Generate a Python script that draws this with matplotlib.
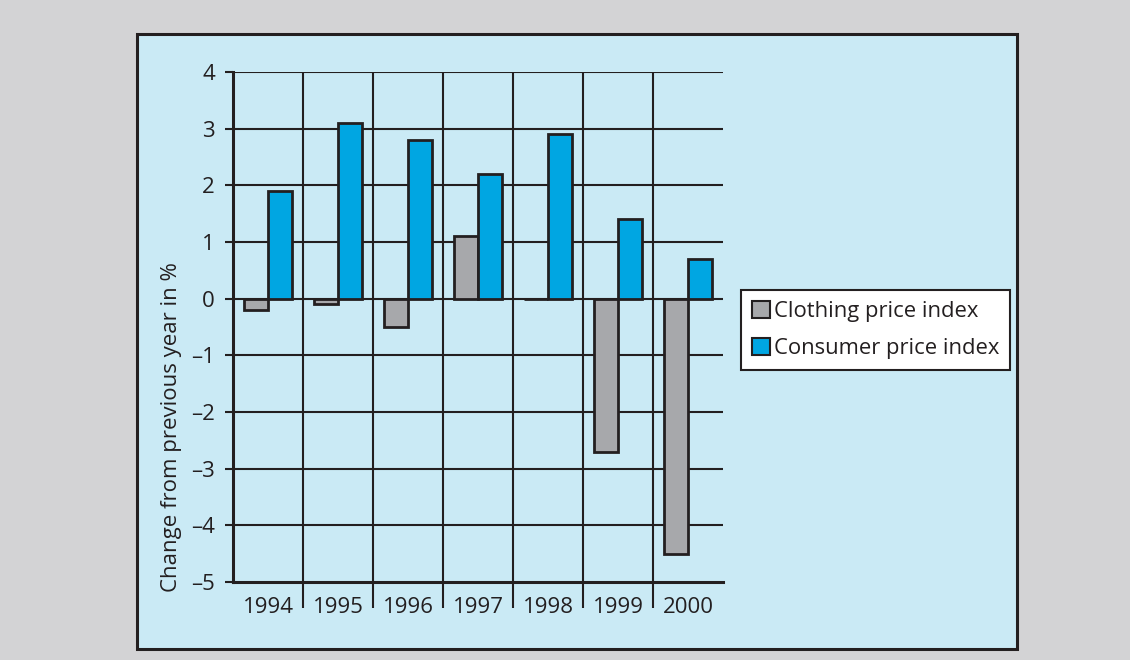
import matplotlib
matplotlib.use("Agg")
import matplotlib.pyplot as plt
from matplotlib.patches import Rectangle, Patch
from matplotlib.ticker import FixedLocator
import numpy as np

plt.rcParams['font.family'] = ['Open Sans', 'DejaVu Sans']

years = ["1994", "1995", "1996", "1997", "1998", "1999", "2000"]
clothing = [-0.2, -0.1, -0.5, 1.1, 0.0, -2.7, -4.5]
consumer = [1.9, 3.1, 2.8, 2.2, 2.9, 1.4, 0.7]
y_ticks = [-5, -4, -3, -2, -1, 0, 1, 2, 3, 4]
y_labels = [f"\u2013{abs(v)}" if v < 0 else str(v) for v in y_ticks]
series_names = ["Clothing price index", "Consumer price index"]

INK = "#231f20"
GREY_BAR = "#a7a8ab"
BLUE_BAR = "#00a6e2"
PANEL = "#caeaf5"
BG = "#d3d3d5"
FS = 16

W, H = 1130, 660
fig = plt.figure(figsize=(W / 100, H / 100), dpi=100, facecolor=BG)

# light blue panel with a dark frame, behind everything else
fig.patches.append(Rectangle((137 / W, 1 - 649 / H), (1017 - 137) / W, (649 - 34) / H,
                             transform=fig.transFigure, facecolor=PANEL,
                             edgecolor=INK, linewidth=2.2, zorder=-10))

ax = fig.add_axes([233 / W, 1 - 582 / H, (723 - 233) / W, (582 - 72) / H])
ax.set_facecolor("none")

x = np.arange(len(years)) + 0.5
w = 0.345
ax.bar(x - w / 2, clothing, width=w, color=GREY_BAR, edgecolor=INK, linewidth=2.0, zorder=3,
       label=series_names[0])
ax.bar(x + w / 2, consumer, width=w, color=BLUE_BAR, edgecolor=INK, linewidth=2.0, zorder=3,
       label=series_names[1])

ax.set_xlim(0, len(years))
ax.set_ylim(-5, 4)

# horizontal grid lines at every unit
ax.set_yticks(y_ticks)
ax.set_yticklabels(y_labels, fontsize=FS, color=INK)
ax.tick_params(axis="y", length=6, width=1.5, color=INK, pad=7)
for v in y_ticks[1:]:
    ax.axhline(v, color=INK, linewidth=1.5, zorder=1)

# year labels at category centres, separators between categories
ax.xaxis.set_major_locator(FixedLocator(x))
ax.set_xticklabels(years, fontsize=FS, color=INK)
ax.tick_params(axis="x", which="major", length=0, pad=10.5)
bounds = np.arange(1, len(years))
ax.xaxis.set_minor_locator(FixedLocator(bounds))
ax.tick_params(axis="x", which="minor", length=19, width=1.5, color=INK, direction="out")
for b in bounds:
    ax.axvline(b, color=INK, linewidth=1.5, zorder=1)

for side in ("top", "right"):
    ax.spines[side].set_visible(False)
for side in ("left", "bottom"):
    ax.spines[side].set_color(INK)
    ax.spines[side].set_linewidth(2.2)
    ax.spines[side].set_zorder(4)

fig.text(172 / W, 1 - 427 / H, "Change from previous year in %", rotation=90,
         ha="center", va="center", fontsize=FS, color=INK)

handles = [Patch(facecolor=GREY_BAR, edgecolor=INK, linewidth=1.5),
           Patch(facecolor=BLUE_BAR, edgecolor=INK, linewidth=1.5)]
leg = fig.legend(handles, series_names, loc="upper left",
                 bbox_to_anchor=(741 / W, 1 - 290 / H), fontsize=15.8,
                 frameon=True, fancybox=False, framealpha=1, edgecolor=INK,
                 handlelength=0.8, handleheight=0.8, handletextpad=0.2,
                 borderpad=0.5, labelspacing=0.72, borderaxespad=0)
leg.get_frame().set_linewidth(1.5)
for t in leg.get_texts():
    t.set_color(INK)

fig.savefig("out.png", dpi=100, facecolor=BG)
